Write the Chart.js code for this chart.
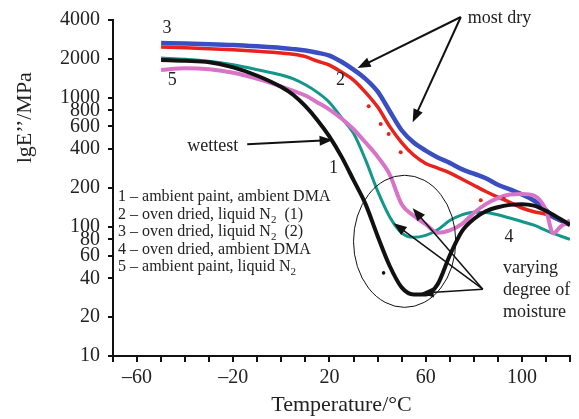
<!DOCTYPE html>
<html>
<head>
<meta charset="utf-8">
<script src="https://cdn.jsdelivr.net/npm/chart.js@4.4.1/dist/chart.umd.min.js"></script>
<style>
  html, body { margin: 0; padding: 0; background: #fff; }
</style>
</head>
<body>
<canvas id="chart" width="579" height="419"></canvas>
<script>
// temperature grid (°C) shared by all five curves
const temps = [-50, -40, -30, -20, -10, 0, 5, 10, 15, 20, 25, 30, 35, 40, 45, 50, 55, 60, 65, 70,
  75, 80, 85, 90, 95, 100, 105, 110, 113, 116, 120];

// E'' (MPa)
const ambientAmbient = [1960, 1930, 1880, 1720, 1480, 1210, 1050, 860, 670, 500, 350, 230, 150, 85, 50, 34, 30, 30, 36, 60,
  92, 115, 132, 142, 148, 150, 146, 133, 124, 115, 104];
const ovenN2run1 = [2470, 2440, 2400, 2350, 2290, 2220, 2170, 2080, 1920, 1790, 1580, 1370, 1100, 850, 600, 450, 360, 310, 285, 262,
  235, 210, 188, 170, 155, 140, 131, 125, 118, 112, 103];
const ovenN2run2 = [2650, 2630, 2600, 2560, 2500, 2430, 2380, 2320, 2230, 2120, 1900, 1650, 1400, 1120, 790, 560, 450, 390, 345, 313,
  280, 258, 238, 212, 195, 178, 160, 135, 120, 112, 104];
const ovenAmbient = [2030, 1990, 1920, 1800, 1650, 1500, 1400, 1260, 1100, 920, 700, 530, 330, 190, 120, 90, 83, 86, 95, 112,
  124, 130, 129, 124, 117, 110, 103, 94, 89, 85, 80];
const ambientN2 = [1640, 1690, 1660, 1560, 1400, 1220, 1130, 1040, 920, 810, 690, 570, 450, 350, 255, 150, 122, 105, 90, 94,
  105, 128, 150, 167, 178, 180, 175, 135, 89, 100, 112];

// stray measurement dots
const redDotT = [36.3, 41.3, 44.6, 49.6, 82.9, 92.5];
const redDotE = [861, 625, 523, 379, 161, 165];
const blackDotT = [42.5];
const blackDotE = [44];

const yTicks = [10, 20, 40, 60, 80, 100, 200, 400, 600, 800, 1000, 2000, 4000];
const xLabels = [-60, -20, 20, 60, 100];

const legendLines = [
  ['1 \u2013 ambient paint, ambient DMA'],
  ['2 \u2013 oven dried, liquid N', '2', '  (1)'],
  ['3 \u2013 oven dried, liquid N', '2', '  (2)'],
  ['4 \u2013 oven dried, ambient DMA'],
  ['5 \u2013 ambient paint, liquid N', '2']
];

const pts = (xs, ys) => xs.map((t, i) => ({ x: t, y: ys[i] }));
const serif = '"Liberation Serif", "DejaVu Serif", serif';
const ink = '#222';

function arrow(ctx, x1, y1, x2, y2, width) {
  const a = Math.atan2(y2 - y1, x2 - x1);
  const len = 13, half = 5;
  ctx.lineWidth = width;
  ctx.beginPath();
  ctx.moveTo(x1, y1);
  ctx.lineTo(x2 - Math.cos(a) * len * 0.8, y2 - Math.sin(a) * len * 0.8);
  ctx.stroke();
  ctx.beginPath();
  ctx.moveTo(x2, y2);
  ctx.lineTo(x2 - Math.cos(a) * len - Math.sin(a) * half, y2 - Math.sin(a) * len + Math.cos(a) * half);
  ctx.lineTo(x2 - Math.cos(a) * len + Math.sin(a) * half, y2 - Math.sin(a) * len - Math.cos(a) * half);
  ctx.closePath();
  ctx.fill();
}

const notes = {
  id: 'notes',
  afterDatasetsDraw(chart) {
    const { ctx, scales: { x, y } } = chart;
    const px = t => x.getPixelForValue(t);
    const py = v => y.getPixelForValue(v);
    ctx.save();
    ctx.fillStyle = ink;
    ctx.strokeStyle = '#111';
    ctx.textBaseline = 'middle';

    // y axis title, sitting a little above the axis middle as in the source
    ctx.save();
    ctx.translate(25, py(700));
    ctx.rotate(-Math.PI / 2);
    ctx.textAlign = 'center';
    ctx.font = '22px ' + serif;
    ctx.fillText('lgE\u2019\u2019/MPa', 0, 0);
    ctx.restore();

    // curve numbers
    ctx.font = '18px ' + serif;
    ctx.textAlign = 'center';
    [['3', -47.5, 3470], ['5', -45.4, 1370], ['2', 24.6, 1370], ['1', 21.7, 285], ['4', 94.6, 83]]
      .forEach(([s, t, v]) => ctx.fillText(s, px(t), py(v)));

    // wettest
    ctx.textAlign = 'right';
    ctx.fillText('wettest', px(-17.9), py(422));
    ctx.fillStyle = '#111';
    arrow(ctx, px(-14.2), py(437), px(21.3), py(470), 2);

    // most dry
    ctx.fillStyle = ink;
    ctx.textAlign = 'left';
    ctx.fillText('most dry', px(77.5), py(4140));
    ctx.fillStyle = '#111';
    arrow(ctx, px(74.6), py(4220), px(31.7), py(1698), 2);
    arrow(ctx, px(74.6), py(4220), px(54.6), py(647), 2);

    // ellipse round the minima
    const l = px(30), r = px(72.5), top = py(251), bot = py(23.8);
    ctx.lineWidth = 1;
    ctx.beginPath();
    ctx.ellipse((l + r) / 2, (top + bot) / 2, (r - l) / 2, (bot - top) / 2, 0, 0, Math.PI * 2);
    ctx.stroke();

    // varying degree of moisture
    ctx.fillStyle = ink;
    ctx.font = '18px ' + serif;
    ctx.fillText('varying', px(92.1), py(47.9));
    ctx.fillText('degree of', px(92.1), py(32.3));
    ctx.fillText('moisture', px(92.1), py(21.8));
    ctx.fillStyle = '#111';
    arrow(ctx, px(83.75), py(32.9), px(46.7), py(106.7), 1.5);
    arrow(ctx, px(83.75), py(32.9), px(54.6), py(139.6), 1.5);
    arrow(ctx, px(83.75), py(32.9), px(57.9), py(30.6), 1.5);

    // legend block
    const rows = [170, 123, 91, 66, 48.7];
    ctx.fillStyle = ink;
    legendLines.forEach((parts, i) => {
      let cx = px(-67.9);
      const cy = py(rows[i]);
      parts.forEach((s, j) => {
        const sub = j === 1;
        ctx.font = (sub ? '11px ' : '16px ') + serif;
        ctx.fillText(s, cx, sub ? cy + 5 : cy);
        cx += ctx.measureText(s).width;
      });
    });
    ctx.restore();
  }
};

const line = (data, color, width) => ({
  data, borderColor: color, borderWidth: width, pointRadius: 0,
  cubicInterpolationMode: 'monotone', fill: false
});

new Chart(document.getElementById('chart'), {
  type: 'line',
  data: {
    datasets: [
      { data: pts(redDotT, redDotE), showLine: false, pointRadius: 2, pointBackgroundColor: '#e3231f', pointBorderWidth: 0 },
      { data: pts(blackDotT, blackDotE), showLine: false, pointRadius: 1.8, pointBackgroundColor: '#111', pointBorderWidth: 0 },
      line(pts(temps, ambientAmbient), '#111111', 4),
      line(pts(temps, ambientN2), '#d874c8', 4),
      line(pts(temps, ovenN2run2), '#3a4ec2', 4.5),
      line(pts(temps, ovenN2run1), '#e8231e', 3.5),
      line(pts(temps, ovenAmbient), '#12978a', 3)
    ]
  },
  options: {
    responsive: false,
    animation: false,
    layout: { padding: { left: 4, right: 9, top: 20, bottom: 0 } },
    plugins: { legend: { display: false }, tooltip: { enabled: false } },
    scales: {
      x: {
        type: 'linear', min: -70, max: 120,
        afterFit: s => { s.height = 63; },
        border: { display: true, color: '#111', width: 2 },
        grid: { drawOnChartArea: false, drawTicks: true, tickLength: 6, color: '#111', lineWidth: 2 },
        ticks: {
          stepSize: 10, autoSkip: false, maxRotation: 0, padding: 4,
          color: ink, font: { family: serif, size: 20 },
          callback: v => xLabels.includes(v) ? (v < 0 ? '\u2013' + Math.abs(v) : String(v)) : ''
        },
        title: { display: true, text: 'Temperature/\u00B0C', color: ink, font: { family: serif, size: 22 }, padding: { top: 0, bottom: 1 } }
      },
      y: {
        type: 'logarithmic', min: 10, max: 4000,
        afterFit: s => { s.width = 109; },
        afterBuildTicks: s => { s.ticks = yTicks.map(v => ({ value: v })); },
        border: { display: true, color: '#111', width: 2 },
        grid: { drawOnChartArea: false, drawTicks: true, tickLength: 5, color: '#111', lineWidth: 2 },
        ticks: {
          autoSkip: false, padding: 8, color: ink, font: { family: serif, size: 20 },
          callback: v => String(v)
        },
        title: { display: false }
      }
    }
  },
  plugins: [notes]
});
</script>
</body>
</html>
